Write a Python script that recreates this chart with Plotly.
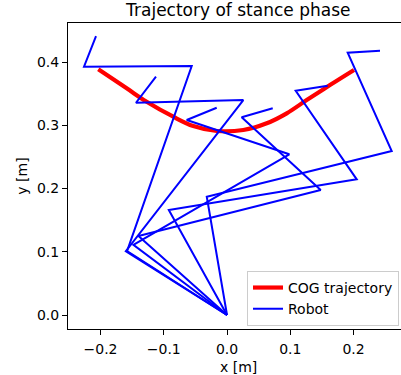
import plotly.graph_objects as go

# ---- data ----
cog_x = [-0.2035, -0.1586, -0.1270, -0.0849, -0.0533, -0.0163, 0.0258, 0.0628, 0.0944, 0.1260, 0.1628, 0.2008]
cog_y = [0.3885, 0.3584, 0.3372, 0.3135, 0.2988, 0.2909, 0.2925, 0.3031, 0.3189, 0.3399, 0.3636, 0.3874]

foot_x = [0.0, 0.0, 0.0, 0.0, 0.0, 0.0]
foot_y = [0.0, 0.0, 0.0, 0.0, 0.0, 0.0]
knee_x = [-0.158, -0.160, -0.148, -0.140, -0.092, -0.032]
knee_y = [0.101, 0.101, 0.111, 0.125, 0.166, 0.187]
hip_x = [-0.0558, 0.0258, 0.0985, 0.1481, 0.2051, 0.2604]
hip_y = [0.3937, 0.3399, 0.2541, 0.1976, 0.2145, 0.2593]
back_x = [-0.2261, -0.1439, -0.0637, 0.0232, 0.1086, 0.1908]
back_y = [0.3926, 0.3356, 0.3083, 0.3126, 0.3546, 0.4147]
tail_x = [-0.2071, -0.1123, -0.0163, 0.0723, 0.1592, 0.2419]
tail_y = [0.4411, 0.3768, 0.3277, 0.3268, 0.3625, 0.4179]

x_ticks = [-0.2, -0.1, 0.0, 0.1, 0.2]
x_tick_labels = ["\u22120.2", "\u22120.1", "0.0", "0.1", "0.2"]
y_ticks = [0.0, 0.1, 0.2, 0.3, 0.4]
y_tick_labels = ["0.0", "0.1", "0.2", "0.3", "0.4"]

# build robot polylines (one per frame, separated by None)
rx, ry = [], []
for i in range(len(foot_x)):
    rx += [foot_x[i], knee_x[i], hip_x[i], back_x[i], tail_x[i], None]
    ry += [foot_y[i], knee_y[i], hip_y[i], back_y[i], tail_y[i], None]

FONT = "DejaVu Sans"

fig = go.Figure()
fig.add_trace(go.Scatter(x=cog_x, y=cog_y, mode="lines", name="COG trajectory",
                         line=dict(color="#ff0000", width=4.2, shape="spline")))
fig.add_trace(go.Scatter(x=rx, y=ry, mode="lines", name="Robot",
                         line=dict(color="#0000ff", width=2)))

fig.update_layout(
    width=401, height=375,
    margin=dict(l=68, r=0, t=23, b=46),
    plot_bgcolor="white", paper_bgcolor="white",
    font=dict(family=FONT, size=14, color="black"),
    title=dict(text="Trajectory of stance phase", font=dict(size=17, color="black"),
               x=238.3 / 401, xanchor="center", xref="container",
               y=1 - 10 / 375, yanchor="middle", yref="container"),
    legend=dict(x=0.994, y=0.010, xanchor="right", yanchor="bottom",
                bgcolor="rgba(255,255,255,0.8)", bordercolor="#cccccc", borderwidth=1,
                font=dict(size=14), itemwidth=30, tracegroupgap=0),
    showlegend=True,
)
# x-axis title placed as a text label below the tick labels
fig.add_annotation(text="x [m]", xref="paper", yref="paper",
                   x=(238.0 - 68) / 333, y=-(366.5 - 329) / 306,
                   xanchor="center", yanchor="middle", showarrow=False,
                   font=dict(size=14, color="black"))
fig.update_xaxes(range=[-0.2514, 0.2751], tickvals=x_ticks, ticktext=x_tick_labels,
                 ticks="outside", ticklen=5, tickwidth=1, tickcolor="black",
                 showline=True, linecolor="black", linewidth=1, mirror=True,
                 showgrid=False, zeroline=False, automargin=False, ticklabelstandoff=2,
                 tickfont=dict(size=14))
fig.update_yaxes(range=[-0.0221, 0.4617], tickvals=y_ticks, ticktext=y_tick_labels,
                 ticks="outside", ticklen=5, tickwidth=1, tickcolor="black",
                 showline=True, linecolor="black", linewidth=1, mirror=False,
                 showgrid=False, zeroline=False, automargin=False,
                 title=dict(text="y [m]", standoff=6, font=dict(size=14, color="black")),
                 tickfont=dict(size=14))

fig.write_html("out.html", config={"displayModeBar": False},
               post_script="document.body.style.margin='0';document.body.style.overflow='hidden';")
